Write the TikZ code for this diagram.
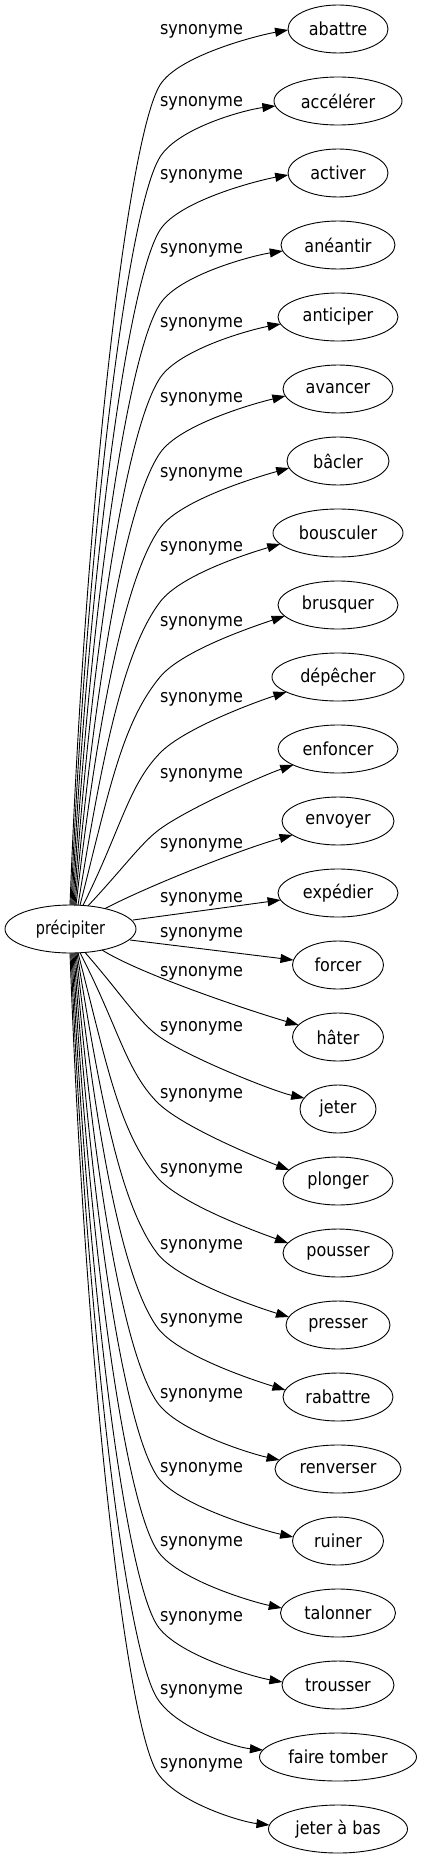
\documentclass[tikz,border=0pt]{standalone}
\usepackage{graphicx}
\usepackage{fontspec}
\setmainfont{DejaVu Sans}[FakeStretch=0.89]
\usetikzlibrary{shapes.geometric,arrows.meta,calc}
\newcommand\synlink[7]{%
 \pgfmathsetmacro\Sx{#6}%
 \pgfmathsetmacro\Sy{929+(#7)*24*sqrt(1-((#6-70.5)/65.5)^2)}%
 \pgfmathsetmacro\Tx{338-#2*sqrt(1-((#4)/24)^2)}%
 \pgfmathsetmacro\Ty{#3+(#4)}%
 \pgfmathsetmacro\Wx{158.5-1.5*(#7)}%
 \pgfmathsetmacro\Wy{#5+31.5-23.5*(#7)}%
 \pgfmathsetmacro\Dx{\Wx-\Sx}%
 \pgfmathsetmacro\Dy{abs(\Wy-\Sy)}%
 \pgfmathsetmacro\Ph{0.6*atan2(\Dy,\Dx)+8}%
 \pgfmathsetmacro\Kf{min(0.5,0.1+60/\Dy)}%
 \pgfmathsetmacro\Lone{min(0.3*\Dy,60)}%
 \pgfmathsetmacro\Ax{\Sx+\Kf*\Dx}%
 \pgfmathsetmacro\Ay{\Sy+(#7)*0.5*\Dy}%
 \pgfmathsetmacro\Bx{\Wx-\Lone*cos(\Ph)}%
 \pgfmathsetmacro\By{\Wy-(#7)*\Lone*sin(\Ph)}%
 \pgfmathsetmacro\Cx{\Wx+35*cos(\Ph)}%
 \pgfmathsetmacro\Cy{\Wy+(#7)*35*sin(\Ph)}%
 \pgfmathsetmacro\Gy{#5+33+25*(#7)}%
 \pgfmathsetmacro\Vl{veclen(\Tx-243,\Ty-\Gy)}%
 \pgfmathsetmacro\Ex{\Tx-30*(\Tx-243)/\Vl}%
 \pgfmathsetmacro\Ey{\Ty-30*(\Ty-\Gy)/\Vl}%
 \pgfmathsetmacro\Sox{\Sx-70.5}%
 \pgfmathsetmacro\Soy{929-\Sy}%
 \pgfmathsetmacro\Tox{\Tx-338}%
 \pgfmathsetmacro\Toy{#3-\Ty}%
 \draw[link] ($(prec.center)+(\Sox,\Soy)$) .. controls (\Ax,-\Ay) and (\Bx,-\By) .. (\Wx,-\Wy) .. controls (\Cx,-\Cy) and (\Ex,-\Ey) .. ($(#1.center)+(\Tox,\Toy)$);
}
\begin{document}
\begin{tikzpicture}[x=1pt,y=1pt,
  every node/.style={font=\fontsize{18}{20}\selectfont},
  term/.style={ellipse,draw,line width=0.9pt,inner sep=0pt,minimum height=48pt},
  lab/.style={inner sep=0pt},
  link/.style={line width=0.9pt,-{Triangle[length=13pt,width=9pt]}}]
\useasboundingbox (0,0) rectangle (421,-1859);
\node[term,minimum width=131pt] (prec) at (70.5,-929) {\scalebox{0.9}[1]{précipiter}};
\node[term,minimum width=100pt] (abattre) at (338,-29) {abattre};
\node[term,minimum width=128pt] (accelerer) at (338,-101) {accélérer};
\node[term,minimum width=100pt] (activer) at (338,-173) {activer};
\node[term,minimum width=114pt] (aneantir) at (338,-245) {anéantir};
\node[term,minimum width=120pt] (anticiper) at (338,-317) {anticiper};
\node[term,minimum width=110pt] (avancer) at (338,-389) {avancer};
\node[term,minimum width=102pt] (bacler) at (338,-461) {bâcler};
\node[term,minimum width=130pt] (bousculer) at (338,-533) {bousculer};
\node[term,minimum width=120pt] (brusquer) at (338,-605) {brusquer};
\node[term,minimum width=132pt] (depecher) at (338,-677) {dépêcher};
\node[term,minimum width=120pt] (enfoncer) at (338,-749) {enfoncer};
\node[term,minimum width=112pt] (envoyer) at (338,-821) {envoyer};
\node[term,minimum width=120pt] (expedier) at (338,-893) {expédier};
\node[term,minimum width=91pt] (forcer) at (338,-965) {forcer};
\node[term,minimum width=91pt] (hater) at (338,-1037) {hâter};
\node[term,minimum width=76pt] (jeter) at (338,-1109) {jeter};
\node[term,minimum width=110pt] (plonger) at (338,-1181) {plonger};
\node[term,minimum width=110pt] (pousser) at (338,-1253) {pousser};
\node[term,minimum width=104pt] (presser) at (338,-1325) {presser};
\node[term,minimum width=110pt] (rabattre) at (338,-1397) {rabattre};
\node[term,minimum width=126pt] (renverser) at (338,-1469) {renverser};
\node[term,minimum width=91pt] (ruiner) at (338,-1541) {ruiner};
\node[term,minimum width=115pt] (talonner) at (338,-1613) {talonner};
\node[term,minimum width=112pt] (trousser) at (338,-1685) {trousser};
\node[term,minimum width=157pt] (fairetomber) at (338,-1757) {faire tomber};
\node[term,minimum width=139pt] (jeterabas) at (338,-1829) {jeter à bas};
\foreach \n/\ly in {1/30,2/102,3/175,4/249,5/323,6/398,7/473,8/547,9/622,10/698,11/774,12/844,13/898,14/933,15/972,16/1027,17/1094,18/1169,19/1245,20/1319,21/1394,22/1468,23/1542,24/1617,25/1690,26/1764}
  \node[lab] (lab\n) at (201.5,-\ly-1.5) {synonyme};
\synlink{abattre}{50}{29}{1}{30}{70}{-1}
\synlink{accelerer}{64}{101}{5}{102}{71}{-1}
\synlink{activer}{50}{173}{2}{175}{72}{-1}
\synlink{aneantir}{57}{245}{6}{249}{73}{-1}
\synlink{anticiper}{60}{317}{7}{323}{74}{-1}
\synlink{avancer}{55}{389}{7}{398}{75}{-1}
\synlink{bacler}{51}{461}{7}{473}{76}{-1}
\synlink{bousculer}{65}{533}{11}{547}{78}{-1}
\synlink{brusquer}{60}{605}{11}{622}{80}{-1}
\synlink{depecher}{66}{677}{15}{698}{83}{-1}
\synlink{enfoncer}{60}{749}{16}{774}{88}{-1}
\draw[link] ($(prec.center)+(34.5,20.4)$) .. controls (150,-885) and (245,-848) .. ($(envoyer.center)+(-45.5,-14)$);
\draw[link] ($(prec.center)+(62.5,9)$) -- ($(expedier.center)+(-57.4,-7)$);
\draw[link] ($(prec.center)+(59.5,-11)$) -- ($(forcer.center)+(-44.5,5)$);
\draw[link] ($(prec.center)+(31.5,-21)$) .. controls (142,-975) and (253.6,-1012) .. ($(hater.center)+(-39.4,12)$);
\synlink{jeter}{38}{1109}{-11}{1027}{85}{1}
\synlink{plonger}{55}{1181}{-11}{1094}{80}{1}
\synlink{pousser}{55}{1253}{-10}{1169}{78}{1}
\synlink{presser}{52}{1325}{-8}{1245}{77}{1}
\synlink{rabattre}{55}{1397}{-7}{1319}{76}{1}
\synlink{renverser}{63}{1469}{-9}{1394}{75}{1}
\synlink{ruiner}{45.5}{1541}{-4}{1468}{74}{1}
\synlink{talonner}{57.5}{1613}{-5}{1542}{73}{1}
\synlink{trousser}{56}{1685}{-3}{1617}{72}{1}
\synlink{fairetomber}{78.5}{1757}{-7}{1690}{71}{1}
\synlink{jeterabas}{69.5}{1829}{-4}{1764}{70}{1}
\end{tikzpicture}
\end{document}
